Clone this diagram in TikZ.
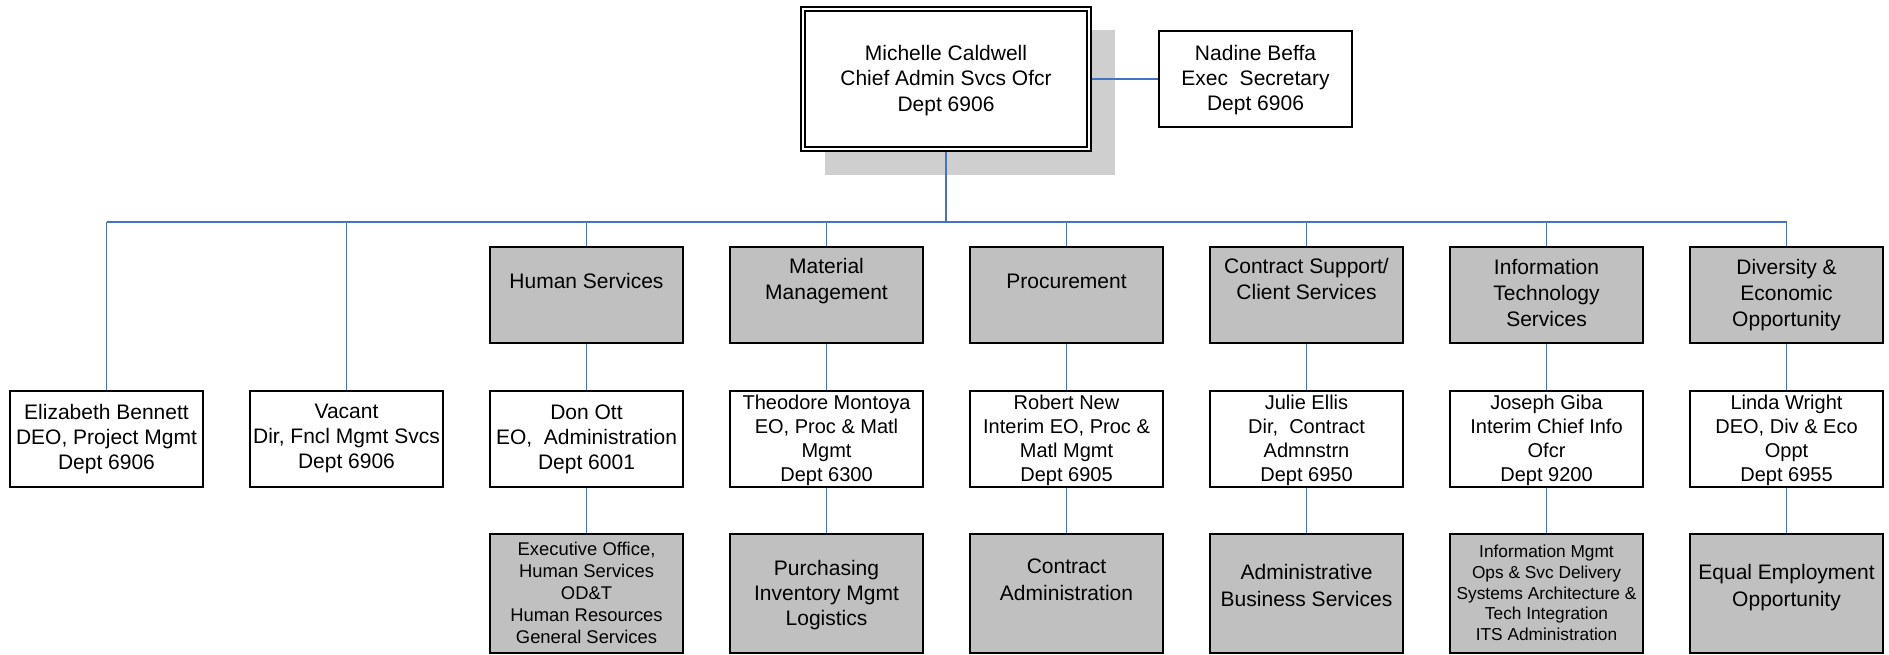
\documentclass[tikz,border=0pt]{standalone}
\usepackage{fontspec}
\setmainfont{Liberation Sans}
\definecolor{lblue}{RGB}{68,114,196}
\definecolor{boxgray}{RGB}{192,192,192}
\definecolor{shadowgray}{RGB}{207,207,207}
\begin{document}
\begin{tikzpicture}[x=0.5pt,y=-0.5pt,
  wbox/.style={draw=black,line width=0.9pt,fill=white,minimum width=96.5pt,minimum height=48pt,inner sep=0pt},
  gbox/.style={wbox,fill=boxgray},
  tallbox/.style={gbox,minimum height=59.5pt},
  txt/.style={align=center,inner sep=0pt,execute at begin node=\strut,execute at end node=\strut},
  fa/.style={txt,font=\fontsize{10.5}{12.65}\selectfont},
  fhead/.style={txt,font=\fontsize{10.5}{13}\selectfont},
  fmid/.style={txt,font=\fontsize{10.5}{12.5}\selectfont},
  fmidf/.style={txt,font=\fontsize{10}{12}\selectfont},
  fbig/.style={txt,font=\fontsize{10.5}{13.5}\selectfont},
  fpur/.style={txt,font=\fontsize{10.5}{12.5}\selectfont},
  fsma/.style={txt,font=\fontsize{9.2}{11}\selectfont},
  fsmb/.style={txt,font=\fontsize{8.65}{10.4}\selectfont},
  mainln/.style={draw=lblue,line width=1.4pt},
  busln/.style={draw=lblue,line width=1pt},
  brln/.style={draw=lblue,line width=0.7pt}
]
\useasboundingbox (0,0) rectangle (1889,654);
% shadow of the top box
\fill[shadowgray] (825,30) rectangle (1115,175);
% top box (double border)
\node[draw=black,line width=0.75pt,fill=white,minimum width=145pt,minimum height=72pt,inner sep=0pt] (top) at (946,79) {};
\draw[line width=1pt] ([shift={(5,5)}]top.north west) rectangle ([shift={(-5,-5)}]top.south east);
\node[fa] (topt) at (946,82) {Michelle Caldwell\\Chief Admin Svcs Ofcr\\Dept 6906};
% secretary
\node[wbox] (nb) at (1255.5,79) {};
\node[fa] (nbt) at (1255.5,81.5) {Nadine Beffa\\Exec~ Secretary\\Dept 6906};
% row A (gray headers)
\node[gbox] (a3) at (586.5,295) {};
\node[gbox] (a4) at (826.5,295) {};
\node[gbox] (a5) at (1066.5,295) {};
\node[gbox] (a6) at (1306.5,295) {};
\node[gbox] (a7) at (1546.5,295) {};
\node[gbox] (a8) at (1786.5,295) {};
\node[fhead] (a3t) at (586.5,283.5) {Human Services};
\node[fhead] (a4t) at (826.5,283) {Material\\Management};
\node[fhead] (a5t) at (1066.5,283.5) {Procurement};
\node[fhead] (a6t) at (1306.5,283) {Contract Support/\\Client Services};
\node[fhead] (a7t) at (1546.5,296.5) {Information\\Technology\\Services};
\node[fhead] (a8t) at (1786.5,296.5) {Diversity \&\\Economic\\Opportunity};
% row B (people)
\node[wbox] (e1) at (106.5,439) {};
\node[wbox] (e2) at (346.5,439) {};
\node[wbox] (b3) at (586.5,439) {};
\node[wbox] (b4) at (826.5,439) {};
\node[wbox] (b5) at (1066.5,439) {};
\node[wbox] (b6) at (1306.5,439) {};
\node[wbox] (b7) at (1546.5,439) {};
\node[wbox] (b8) at (1786.5,439) {};
\node[fmid] (e1t) at (106.5,440.5) {Elizabeth Bennett\\DEO, Project Mgmt\\Dept 6906};
\node[fmid] (e2t) at (346.5,440.5) {Vacant\\Dir, Fncl Mgmt Svcs\\Dept 6906};
\node[fmid] (b3t) at (586.5,440.5) {Don Ott\\EO,~ Administration\\Dept 6001};
\node[fmidf] (b4t) at (826.5,441.5) {Theodore Montoya\\EO, Proc \& Matl\\Mgmt\\Dept 6300};
\node[fmidf] (b5t) at (1066.5,441.5) {Robert New\\Interim EO, Proc \&\\Matl Mgmt\\Dept 6905};
\node[fmidf] (b6t) at (1306.5,441.5) {Julie Ellis\\Dir,~ Contract\\Admnstrn\\Dept 6950};
\node[fmidf] (b7t) at (1546.5,441.5) {Joseph Giba\\Interim Chief Info\\Ofcr\\Dept 9200};
\node[fmidf] (b8t) at (1786.5,441.5) {Linda Wright\\DEO, Div \& Eco\\Oppt\\Dept 6955};
% row C (units)
\node[tallbox] (c3) at (586.5,593.5) {};
\node[tallbox] (c4) at (826.5,593.5) {};
\node[tallbox] (c5) at (1066.5,593.5) {};
\node[tallbox] (c6) at (1306.5,593.5) {};
\node[tallbox] (c7) at (1546.5,593.5) {};
\node[tallbox] (c8) at (1786.5,593.5) {};
\node[fsma] (c3t) at (586.5,596) {Executive Office,\\Human Services\\OD\&T\\Human Resources\\General Services};
\node[fpur] (c4t) at (826.5,596.5) {Purchasing\\Inventory Mgmt\\Logistics};
\node[fbig] (c5t) at (1066.5,584) {Contract\\Administration};
\node[fbig] (c6t) at (1306.5,589) {Administrative\\Business Services};
\node[fsmb] (c7t) at (1546.5,596) {Information Mgmt\\Ops \& Svc Delivery\\Systems Architecture \&\\Tech Integration\\ITS Administration};
\node[fbig] (c8t) at (1786.5,589) {Equal Employment\\Opportunity};
% connectors
\coordinate (bus) at (946,222);
\draw[brln,line width=0.8pt] (top.east) -- (nb.west);
\draw[mainln] (top.south) -- (bus);
\draw[busln] (e1.north |- bus) -- (a8.north |- bus);
\foreach \n in {e1,e2,a3,a4,a5,a6,a7,a8}
  \draw[brln] (\n.north |- bus) -- (\n.north);
\foreach \i in {3,...,8}{
  \draw[brln] (a\i.south) -- (b\i.north);
  \draw[brln] (b\i.south) -- (c\i.north);
}
\end{tikzpicture}
\end{document}
